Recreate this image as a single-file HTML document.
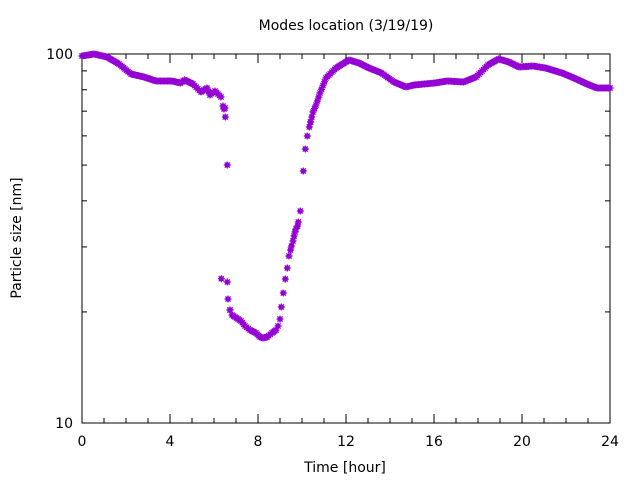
<!DOCTYPE html>
<html><head><meta charset="utf-8"><style>
body{margin:0;background:#fff;}
svg text{font-family:"DejaVu Sans","Liberation Sans",sans-serif;font-size:14px;fill:#000;}
</style></head><body>
<svg id="s" width="640" height="480" xmlns="http://www.w3.org/2000/svg">
<rect width="640" height="480" fill="#fff"/>
<text x="346" y="30" text-anchor="middle">Modes location (3/19/19)</text>
<text x="345" y="472" text-anchor="middle">Time [hour]</text>
<text transform="translate(21,238) rotate(-90)" text-anchor="middle">Particle size [nm]</text>
<text x="73" y="59" text-anchor="end">100</text>
<text x="73" y="428" text-anchor="end">10</text>
<g id="ticks" stroke="#000" stroke-width="1"></g>
<g id="xl" text-anchor="middle"></g>
<rect x="82" y="54" width="528" height="369" fill="none" stroke="#000" stroke-width="1"/>
<g id="pts" fill="#9400d3" stroke="#9400d3"></g>
</svg>
<script>
var NS="http://www.w3.org/2000/svg";
function el(p,t,a,txt){var e=document.createElementNS(NS,t);for(var k in a)e.setAttribute(k,a[k]);if(txt)e.textContent=txt;document.getElementById(p).appendChild(e);}
var L=82,R=610,T=54,B=423;
for(var h=0;h<=24;h++){var x=L+h*22;var len=(h%4==0)?9:5;
 el('ticks','line',{x1:x,y1:B,x2:x,y2:B-len});el('ticks','line',{x1:x,y1:T,x2:x,y2:T+len});
 if(h%4==0)el('xl','text',{x:x,y:446},String(h));}
for(var v=20;v<=90;v+=10){var y=B-369*Math.log10(v/10);
 el('ticks','line',{x1:L,y1:y,x2:L+5,y2:y});el('ticks','line',{x1:R,y1:y,x2:R-5,y2:y});}
function dense(k){var out=[];for(var i=0;i<k.length-1;i++){var a=k[i],b=k[i+1];var n=Math.max(1,Math.round((b[0]-a[0])/1.5));for(var j=0;j<n;j++){var t=j/n;out.push([a[0]+(b[0]-a[0])*t,a[1]+(b[1]-a[1])*t]);}}out.push(k[k.length-1]);return out;}
var A=dense([[82,56],[94,54],[107,57],[119,64],[131,74],[144,77],[156,81],[172,81],[180.5,83],[184.6,80],[193,84],[201,92],[207,88],[210,95],[215,91],[221,97]]);
var S1=[[223,106],[224,109],[225,108],[225.3,117],[227.3,165],[221.3,278.7],[227.3,282],[228,299],[230,310]];
var D=dense([[230,310],[232,315],[235,317],[241,321],[245,326],[250,330],[256,333],[260,337],[263,338],[267,337],[272,333],[276,330],[278,326],[280,319]]);
var S2=[[281.3,307],[283.3,293],[285.3,279],[287.3,268],[289,256],[290.5,250],[291.5,246],[293,241],[294,236],[295,232],[296,229],[297.5,226],[298.3,222],[300.3,211],[303.3,171],[305.3,149],[307.3,136],[309.3,127],[310.6,122]];
var C=dense([[310.6,122],[313,112],[316,105],[320,93],[326,78],[336,68],[349,60],[359,63],[369,68],[381.5,73],[394,82],[406,87],[414,85],[435,83],[447,81],[463.6,82],[476,77],[488,65],[498.5,59],[509,62],[519,67],[533,66],[545.6,68],[562,73],[574,78],[587,84],[597,88],[610,88]]);
var all=A.concat(S1,D,S2,C);
all.forEach(function(p){var x=p[0],y=p[1];
 el('pts','circle',{cx:x,cy:y,r:2.6,stroke:'none'});
 el('pts','path',{d:'M'+(x-3.5)+' '+y+'h7M'+x+' '+(y-3.5)+'v7M'+(x-2.6)+' '+(y-2.6)+'l5.2 5.2M'+(x-2.6)+' '+(y+2.6)+'l5.2 -5.2',"stroke-width":1.2,fill:'none'});});
</script>
</body></html>
